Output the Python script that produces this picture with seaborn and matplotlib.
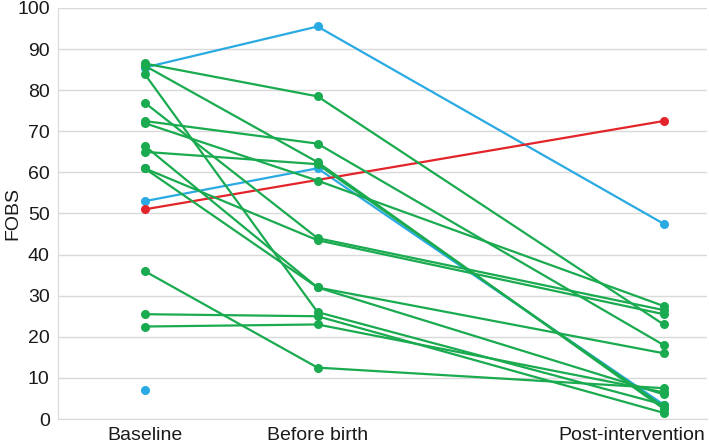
import numpy as np
import pandas as pd
import matplotlib
matplotlib.use("Agg")
import matplotlib.pyplot as plt
import matplotlib.transforms as mtransforms
import seaborn as sns

# time points (before birth and post-intervention are not evenly spaced)
time_labels = ["Baseline", "Before birth", "Post-intervention"]
time_pos = [0, 1, 3]

# green participants (FOBS decreased)
green_baseline = [86.5, 86.0, 84.0, 77.0, 72.5, 72.0, 66.5, 65.0, 61.0, 61.0, 36.0, 25.5, 22.5]
green_before = [78.5, 62.5, 26.0, 44.0, 67.0, 58.0, 32.0, 62.0, 43.5, 32.0, 12.5, 25.0, 23.0]
green_post = [23.0, 2.5, 3.5, 26.5, 18.0, 27.5, 16.0, 3.0, 25.5, 6.0, 7.5, 1.5, 6.5]

# blue participants
blue_baseline = [85.5, 53.0, 7.0]
blue_before = [95.5, 61.0, np.nan]
blue_post = [47.5, 3.5, np.nan]

# red participant (no before birth value)
red_baseline = [51.0]
red_before = [np.nan]
red_post = [72.5]

colors = {"green": "#1aaa4f", "blue": "#2aaae2", "red": "#e3242b"}


def to_long(group, base, before, post):
    rows = []
    for i in range(len(base)):
        for t, v in zip(time_pos, [base[i], before[i], post[i]]):
            rows.append({"group": group, "id": f"{group}{i}", "time": t, "FOBS": v})
    return pd.DataFrame(rows)


df = pd.concat([
    to_long("blue", blue_baseline, blue_before, blue_post),
    to_long("red", red_baseline, red_before, red_post),
    to_long("green", green_baseline, green_before, green_post),
]).dropna()

sns.set_style("white")
plt.rcParams["font.family"] = ["Liberation Sans", "DejaVu Sans"]

fig = plt.figure(figsize=(7.09, 4.44), dpi=100)
ax = fig.add_axes([0.0818, 0.0563, 0.9152, 0.9257])

for grp in ["blue", "red", "green"]:
    sub = df[df["group"] == grp]
    sns.lineplot(data=sub, x="time", y="FOBS", units="id", estimator=None,
                 color=colors[grp], marker="o", markersize=6.5,
                 markeredgewidth=0, linewidth=1.6, ax=ax, legend=False)

ax.set_xlim(-0.5, 3.25)
ax.set_ylim(0, 100)
ax.set_yticks(range(0, 101, 10))
ax.set_xticks(time_pos)
ax.set_xticklabels(time_labels)
ax.tick_params(axis="both", length=0, labelsize=14, colors="#1a1a1a")
ax.tick_params(axis="x", pad=6)
ax.tick_params(axis="y", pad=6)

# last label is pushed left so it stays inside the figure
last = ax.get_xticklabels()[-1]
last.set_transform(last.get_transform() + mtransforms.ScaledTranslation(-0.32, 0, fig.dpi_scale_trans))

ax.yaxis.grid(True, color="#d9d9d9", linewidth=1)
ax.set_axisbelow(True)
for s in ["top", "right"]:
    ax.spines[s].set_visible(False)
ax.spines["left"].set_color("#d9d9d9")
ax.spines["bottom"].set_color("#d9d9d9")
ax.set_xlabel("")
ax.set_ylabel("FOBS", fontsize=14, color="#1a1a1a")
ax.yaxis.set_label_coords(-0.056, 0.5)

fig.savefig("out.png", dpi=100)
